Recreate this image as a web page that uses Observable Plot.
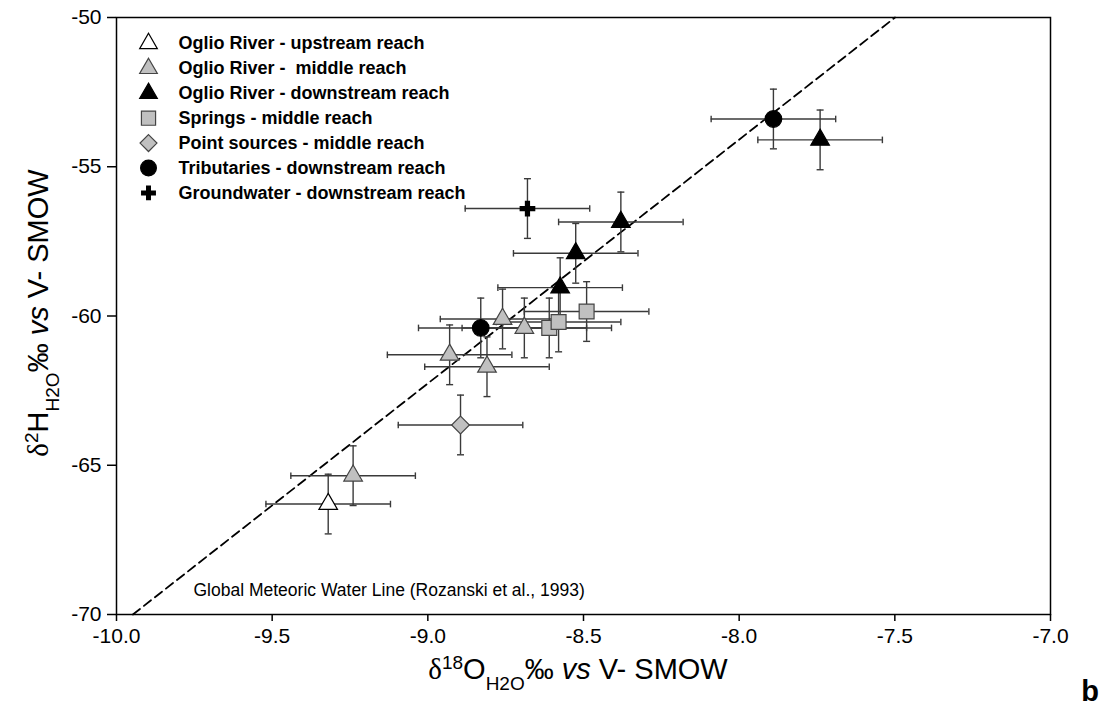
<!DOCTYPE html>
<html><head><meta charset="utf-8">
<script src="https://cdn.jsdelivr.net/npm/d3@7"></script>
<script src="https://cdn.jsdelivr.net/npm/@observablehq/plot@0.6"></script>
<style>body{margin:0;background:#fff} #chart{width:1106px;height:718px}</style>
</head><body><div id="chart"></div>
<script>
// ---- data ----
const seriesNames = [
  "Oglio River - upstream reach",
  "Oglio River -  middle reach",
  "Oglio River - downstream reach",
  "Springs - middle reach",
  "Point sources - middle reach",
  "Tributaries - downstream reach",
  "Groundwater - downstream reach"
];
const upstreamO18 = [-9.32];
const upstreamH2  = [-66.3];
const middleO18 = [-9.24, -8.93, -8.81, -8.76, -8.69];
const middleH2  = [-65.35, -61.3, -61.7, -60.1, -60.4];
const downstreamO18 = [-8.575, -8.525, -8.38, -7.74];
const downstreamH2  = [-59.05, -57.9, -56.85, -54.1];
const springsO18 = [-8.61, -8.58, -8.49];
const springsH2  = [-60.4, -60.2, -59.85];
const pointO18 = [-8.895];
const pointH2  = [-63.65];
const tribO18 = [-8.83, -7.89];
const tribH2  = [-60.4, -53.4];
const gwO18 = [-8.68];
const gwH2  = [-56.4];
const errO18 = 0.2;
const errH2 = 1.0;
const xTicks = [-10.0, -9.5, -9.0, -8.5, -8.0, -7.5, -7.0];
const yTicks = [-50, -55, -60, -65, -70];
const xDomain = [-10, -7];
const yDomain = [-70, -50];
// Global Meteoric Water Line (Rozanski et al., 1993): d2H = 8.17 d18O + 11.27
const gmwlSlope = 8.17, gmwlIntercept = 11.27;
const gmwlLabel = "Global Meteoric Water Line (Rozanski et al., 1993)";

// ---- styles ----
const symbols = ["triangle", "triangle", "triangle", "square", "diamond2", "circle", "cross"];
const fills   = ["#ffffff", "#c0c0c0", "#000000", "#c0c0c0", "#c0c0c0", "#000000", "#000000"];
const strokes = ["#000000", "#444444", "#000000", "#444444", "#444444", "#000000", "none"];
const radii   = [6.9, 6.9, 6.9, 8.4, 8.0, 8.3, 6.6];

const o18 = [upstreamO18, middleO18, downstreamO18, springsO18, pointO18, tribO18, gwO18];
const h2  = [upstreamH2, middleH2, downstreamH2, springsH2, pointH2, tribH2, gwH2];
const points = seriesNames.flatMap((s, i) => o18[i].map((o, j) => ({series: i, o, h: h2[i][j]})));

const gmwl = yDomain.map(h => ({o: (h - gmwlIntercept) / gmwlSlope, h}));

// cap symbols
const vCap = {draw(ctx, size) { const r = Math.sqrt(size / Math.PI); ctx.moveTo(0, -r); ctx.lineTo(0, r); }};
const hCap = {draw(ctx, size) { const r = Math.sqrt(size / Math.PI); ctx.moveTo(-r, 0); ctx.lineTo(r, 0); }};

const errColor = "#3a3a3a";
const marks = [
  Plot.frame({stroke: "#000", strokeWidth: 1.5}),
  Plot.line(gmwl, {x: "o", y: "h", stroke: "#000", strokeWidth: 1.8, strokeDasharray: "9,5"}),
  Plot.ruleY(points, {y: "h", x1: d => d.o - errO18, x2: d => d.o + errO18, stroke: errColor, strokeWidth: 1.4}),
  Plot.ruleX(points, {x: "o", y1: d => d.h - errH2, y2: d => d.h + errH2, stroke: errColor, strokeWidth: 1.4}),
  Plot.dot(points, {x: d => d.o - errO18, y: "h", symbol: vCap, r: 3.3, stroke: errColor, strokeWidth: 1.4}),
  Plot.dot(points, {x: d => d.o + errO18, y: "h", symbol: vCap, r: 3.3, stroke: errColor, strokeWidth: 1.4}),
  Plot.dot(points, {x: "o", y: d => d.h - errH2, symbol: hCap, r: 3.5, stroke: errColor, strokeWidth: 1.4}),
  Plot.dot(points, {x: "o", y: d => d.h + errH2, symbol: hCap, r: 3.5, stroke: errColor, strokeWidth: 1.4}),
  ...seriesNames.map((s, i) => Plot.dot(points.filter(d => d.series === i), {
    x: "o", y: "h", symbol: symbols[i], r: radii[i], fill: fills[i], stroke: strokes[i], strokeWidth: 1.2
  })),
  Plot.text([gmwlLabel], {frameAnchor: "bottom-left", text: d => d, dx: 77, dy: -19, textAnchor: "start", lineAnchor: "bottom", fontSize: 17.5, fill: "#000"}),
  ...seriesNames.map((s, i) => Plot.dot([s], {
    frameAnchor: "top-left", dx: 32, dy: 26 + i * 24.9, symbol: symbols[i], r: radii[i] * 0.95, fill: fills[i], stroke: strokes[i], strokeWidth: 1.2
  })),
  ...seriesNames.map((s, i) => Plot.text([s], {
    frameAnchor: "top-left", dx: 62, dy: 26 + i * 24.9, text: d => d, textAnchor: "start", lineAnchor: "middle",
    fontWeight: "bold", fontSize: 18, fill: "#000"
  })),
  Plot.axisX({ticks: xTicks, tickFormat: d => d.toFixed(1), tickSize: 7, tickPadding: 7, label: null, strokeWidth: 1.5, fontSize: 21}),
  Plot.axisY({ticks: yTicks, tickFormat: d => String(d), tickSize: 9, tickPadding: 6, label: null, strokeWidth: 1.5, fontSize: 21})
];

const svg = Plot.plot({
  width: 1106, height: 718,
  marginLeft: 116, marginRight: 56, marginTop: 17, marginBottom: 104,
  x: {domain: xDomain},
  y: {domain: yDomain},
  style: {fontSize: "21px", fontFamily: "'Liberation Sans', Arial, sans-serif", color: "#000", background: "#fff"},
  marks
});
document.getElementById("chart").appendChild(svg);

// ---- axis titles with sub/superscripts ----
const sans = "'Liberation Sans', Arial, sans-serif";
const sel = d3.select(svg);
function title(g, isoMass, element) {
  g.append("tspan").attr("font-family", "'Liberation Serif', 'DejaVu Serif', serif").text("δ");
  g.append("tspan").attr("baseline-shift", "super").attr("font-size", 19).text(isoMass);
  g.append("tspan").text(element);
  g.append("tspan").attr("baseline-shift", "sub").attr("font-size", 19).text("H2O");
  g.append("tspan").text("‰ ");
  g.append("tspan").attr("font-style", "italic").text("vs");
  g.append("tspan").text(" V- SMOW");
}
const xt = sel.append("text").attr("x", 578).attr("y", 679).attr("text-anchor", "middle")
  .attr("font-family", sans).attr("font-size", 29).attr("fill", "#000");
title(xt, "18", "O");
const yt = sel.append("text").attr("transform", "translate(48,313) rotate(-90)").attr("text-anchor", "middle")
  .attr("font-family", sans).attr("font-size", 29).attr("fill", "#000");
title(yt, "2", "H");
sel.append("text").attr("x", 1090).attr("y", 701).attr("text-anchor", "middle")
  .attr("font-family", sans).attr("font-weight", "bold").attr("font-size", 29).attr("fill", "#000").text("b");
</script>
</body></html>
